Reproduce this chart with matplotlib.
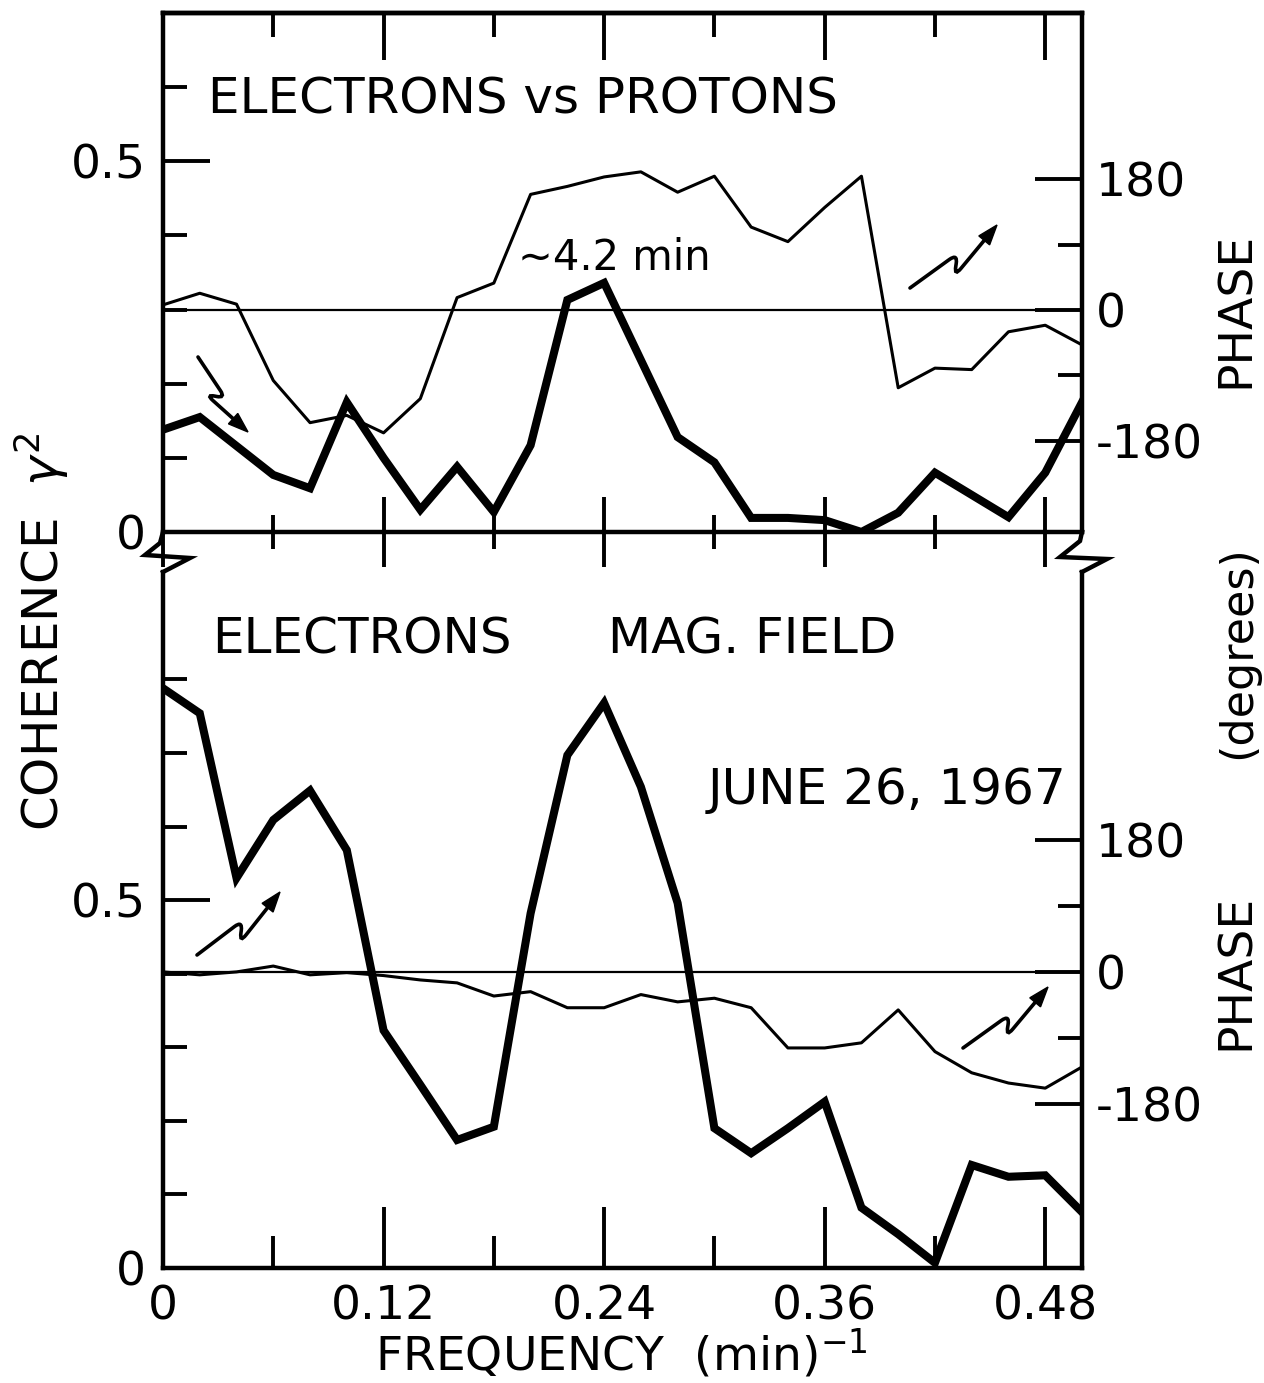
import numpy as np
import matplotlib
matplotlib.use('Agg')
import matplotlib.pyplot as plt
from matplotlib.path import Path
from matplotlib.patches import PathPatch, Polygon
from matplotlib.lines import Line2D
from matplotlib.transforms import Affine2D

# ---------------- data ----------------
freq = [0.00, 0.02, 0.04, 0.06, 0.08, 0.10, 0.12, 0.14, 0.16, 0.18, 0.20, 0.22, 0.24,
        0.26, 0.28, 0.30, 0.32, 0.34, 0.36, 0.38, 0.40, 0.42, 0.44, 0.46, 0.48, 0.50]

# Electrons vs protons
coh_ep = [0.138, 0.155, 0.116, 0.077, 0.059, 0.175, 0.100, 0.030, 0.088, 0.027, 0.117, 0.313,
          0.336, 0.232, 0.128, 0.094, 0.019, 0.019, 0.016, 0.000, 0.026, 0.080, 0.050, 0.020,
          0.080, 0.175]
phase_ep = [7, 23, 8, -97, -155, -145, -169, -122, 17, 37, 159, 170, 183, 190, 162, 184,
            114, 94, 141, 184, -107, -80, -82, -30, -21, -48]

# Electrons vs magnetic field
coh_em = [0.788, 0.754, 0.530, 0.609, 0.649, 0.568, 0.323, 0.249, 0.174, 0.192, 0.482, 0.697,
          0.768, 0.654, 0.496, 0.190, 0.156, 0.190, 0.226, 0.082, 0.046, 0.007, 0.140, 0.124,
          0.126, 0.076]
phase_em = [0, -4, 0, 8, -4, -1, -5, -11, -15, -33, -27, -49, -49, -31, -41, -36, -49, -104,
            -104, -97, -52, -109, -138, -152, -159, -130]

xmajor = [0, 0.12, 0.24, 0.36, 0.48]
xmajor_labels = ['0', '0.12', '0.24', '0.36', '0.48']
xminor = [0.06, 0.18, 0.30, 0.42]
coh_major = [0, 0.5]
coh_major_labels = ['0', '0.5']
coh_minor_top = [0.1, 0.2, 0.3, 0.4, 0.6]
coh_minor_bot = [0.1, 0.2, 0.3, 0.4, 0.6, 0.7, 0.8]
ph_major = [-180, 0, 180]
ph_major_labels = ['-180', '0', '180']
ph_minor = [-90, 90]

# ---------------- layout ----------------
plt.rcParams['font.family'] = ['DejaVu Sans']
W, H = 1264, 1383
fig = plt.figure(figsize=(W / 100, H / 100), dpi=100)
pix = Affine2D().scale(1.0 / W, -1.0 / H).translate(0, 1) + fig.transFigure

L, R = 163, 1082
top_t, top_b = 13, 532
bot_t, bot_b = 572, 1268
ax1 = fig.add_axes([L / W, 1 - top_b / H, (R - L) / W, (top_b - top_t) / H])
ax2 = fig.add_axes([L / W, 1 - bot_b / H, (R - L) / W, (bot_b - bot_t) / H])

SPW = 3.2
TW = 2.8
LONG, SHORT = 34, 17
FS = 34

for ax in (ax1, ax2):
    for s in ax.spines.values():
        s.set_linewidth(SPW)
    ax.set_xlim(0, 0.5)
    ax.set_xticks(xmajor)
    ax.set_xticks(xminor, minor=True)
ax2.spines['top'].set_visible(False)

ax1.set_ylim(0, 0.70)
ax2.set_ylim(0, 0.946)

# coherence (thick)
ax1.plot(freq, coh_ep, color='black', lw=5.8, solid_joinstyle='miter', zorder=3)
ax2.plot(freq, coh_em, color='black', lw=5.8, solid_joinstyle='miter', zorder=3)

# phase (thin) on twin axes
t1 = ax1.twinx()
t2 = ax2.twinx()
t1.set_ylim(-305.4, 408.5)
t2.set_ylim(-405, 547)
for t, ph in ((t1, phase_ep), (t2, phase_em)):
    t.plot(freq, ph, color='black', lw=2.2, zorder=3)
    t.axhline(0, color='black', lw=1.6, zorder=2)
    for s in t.spines.values():
        s.set_visible(False)
    t.set_yticks(ph_major)
    t.set_yticklabels(ph_major_labels)
    t.set_yticks(ph_minor, minor=True)
    t.tick_params(axis='y', which='major', direction='in', length=LONG, width=TW,
                  labelsize=FS, pad=10)
    t.tick_params(axis='y', which='minor', direction='in', length=SHORT, width=TW)

# left ticks
for ax, mn in ((ax1, coh_minor_top), (ax2, coh_minor_bot)):
    ax.set_yticks(coh_major)
    ax.set_yticklabels(coh_major_labels)
    ax.set_yticks(mn, minor=True)
    ax.tick_params(axis='y', which='major', direction='in', length=LONG, width=TW,
                   labelsize=FS, pad=12, right=False)
    ax.tick_params(axis='y', which='minor', direction='in', length=SHORT, width=TW, right=False)

# x ticks
ax1.tick_params(axis='x', which='major', direction='inout', length=50, width=TW,
                labelbottom=False)
ax1.tick_params(axis='x', which='minor', direction='inout', length=25, width=TW)
sec = ax1.secondary_xaxis('top')
sec.set_xticks(xmajor)
sec.set_xticks(xminor, minor=True)
sec.spines['top'].set_linewidth(SPW)
sec.tick_params(axis='x', which='major', direction='in', length=LONG, width=TW, labeltop=False)
sec.tick_params(axis='x', which='minor', direction='in', length=SHORT, width=TW)

ax2.set_xticklabels(xmajor_labels)
ax2.tick_params(axis='x', which='major', direction='in', length=LONG + 10, width=TW,
                labelsize=FS, pad=12)
ax2.tick_params(axis='x', which='minor', direction='in', length=SHORT + 6, width=TW)

# ---------------- decorations (pixel coords) ----------------
def ptext2(x, y, s, size=36, **kw):
    fig.text(x / W, 1 - y / H, s, fontsize=size, **kw)

ptext2(208, 100, 'ELECTRONS vs PROTONS', size=36, ha='left', va='center')
ptext2(518, 258, '\u223c4.2 min', size=30, ha='left', va='center')
ptext2(212, 640, 'ELECTRONS', size=36, ha='left', va='center')
ptext2(608, 640, 'MAG. FIELD', size=36, ha='left', va='center')
ptext2(1066, 790, 'JUNE 26, 1967', size=36, ha='right', va='center')

ptext2(42, 632, 'COHERENCE  $\\gamma^2$', size=36, rotation=90, ha='center', va='center')
ptext2(1236, 310, 'PHASE', size=34, rotation=90, ha='center', va='center')
ptext2(1238, 652, '(degrees)', size=32, rotation=90, ha='center', va='center')
ptext2(1236, 972, 'PHASE', size=34, rotation=90, ha='center', va='center')
ptext2(621, 1353, 'FREQUENCY  (min)$^{-1}$', size=34, ha='center', va='center')

# axis breaks
for pts in ([(163, 532), (160, 543), (145, 555), (190, 558), (163, 572)],
            [(1082, 532), (1080, 541), (1060, 557), (1107, 559), (1082, 572)]):
    xs, ys = zip(*pts)
    fig.add_artist(Line2D(xs, ys, color='black', lw=SPW, transform=pix,
                          solid_joinstyle='miter'))


def squiggle(S, E, t=0.55, hk=0.22):
    S = np.array(S, float); E = np.array(E, float)
    d = E - S; Ln = np.hypot(*d); u = d / Ln
    c, s = np.cos(np.radians(135)), np.sin(np.radians(135))
    h = np.array([u[0] * c - u[1] * s, u[0] * s + u[1] * c])
    P1 = S + t * Ln * u
    P2 = P1 + hk * Ln * h
    v = (E - P2) / np.hypot(*(E - P2))
    headL, headW = 20, 7
    Eb = E - headL * v
    A = P1 - 0.10 * Ln * u
    B = P1 + 0.10 * Ln * h
    C = P2 - 0.10 * Ln * h
    D = P2 + 0.10 * Ln * v
    verts = [S, A, P1, B, C, P2, D, Eb]
    codes = [Path.MOVETO, Path.LINETO, Path.CURVE3, Path.CURVE3, Path.LINETO,
             Path.CURVE3, Path.CURVE3, Path.LINETO]
    fig.add_artist(PathPatch(Path(verts, codes), fill=False, lw=2.6, ec='black',
                             transform=pix, capstyle='round'))
    n = np.array([-v[1], v[0]])
    head = [E, Eb + headW * n, Eb - headW * n]
    fig.add_artist(Polygon(head, closed=True, fc='black', ec='black', lw=1, transform=pix))


squiggle((198, 357), (248, 432))
squiggle((910, 288), (997, 225))
squiggle((197, 955), (280, 892))
squiggle((963, 1048), (1048, 987))

fig.savefig('out.png', dpi=100, facecolor='white')
